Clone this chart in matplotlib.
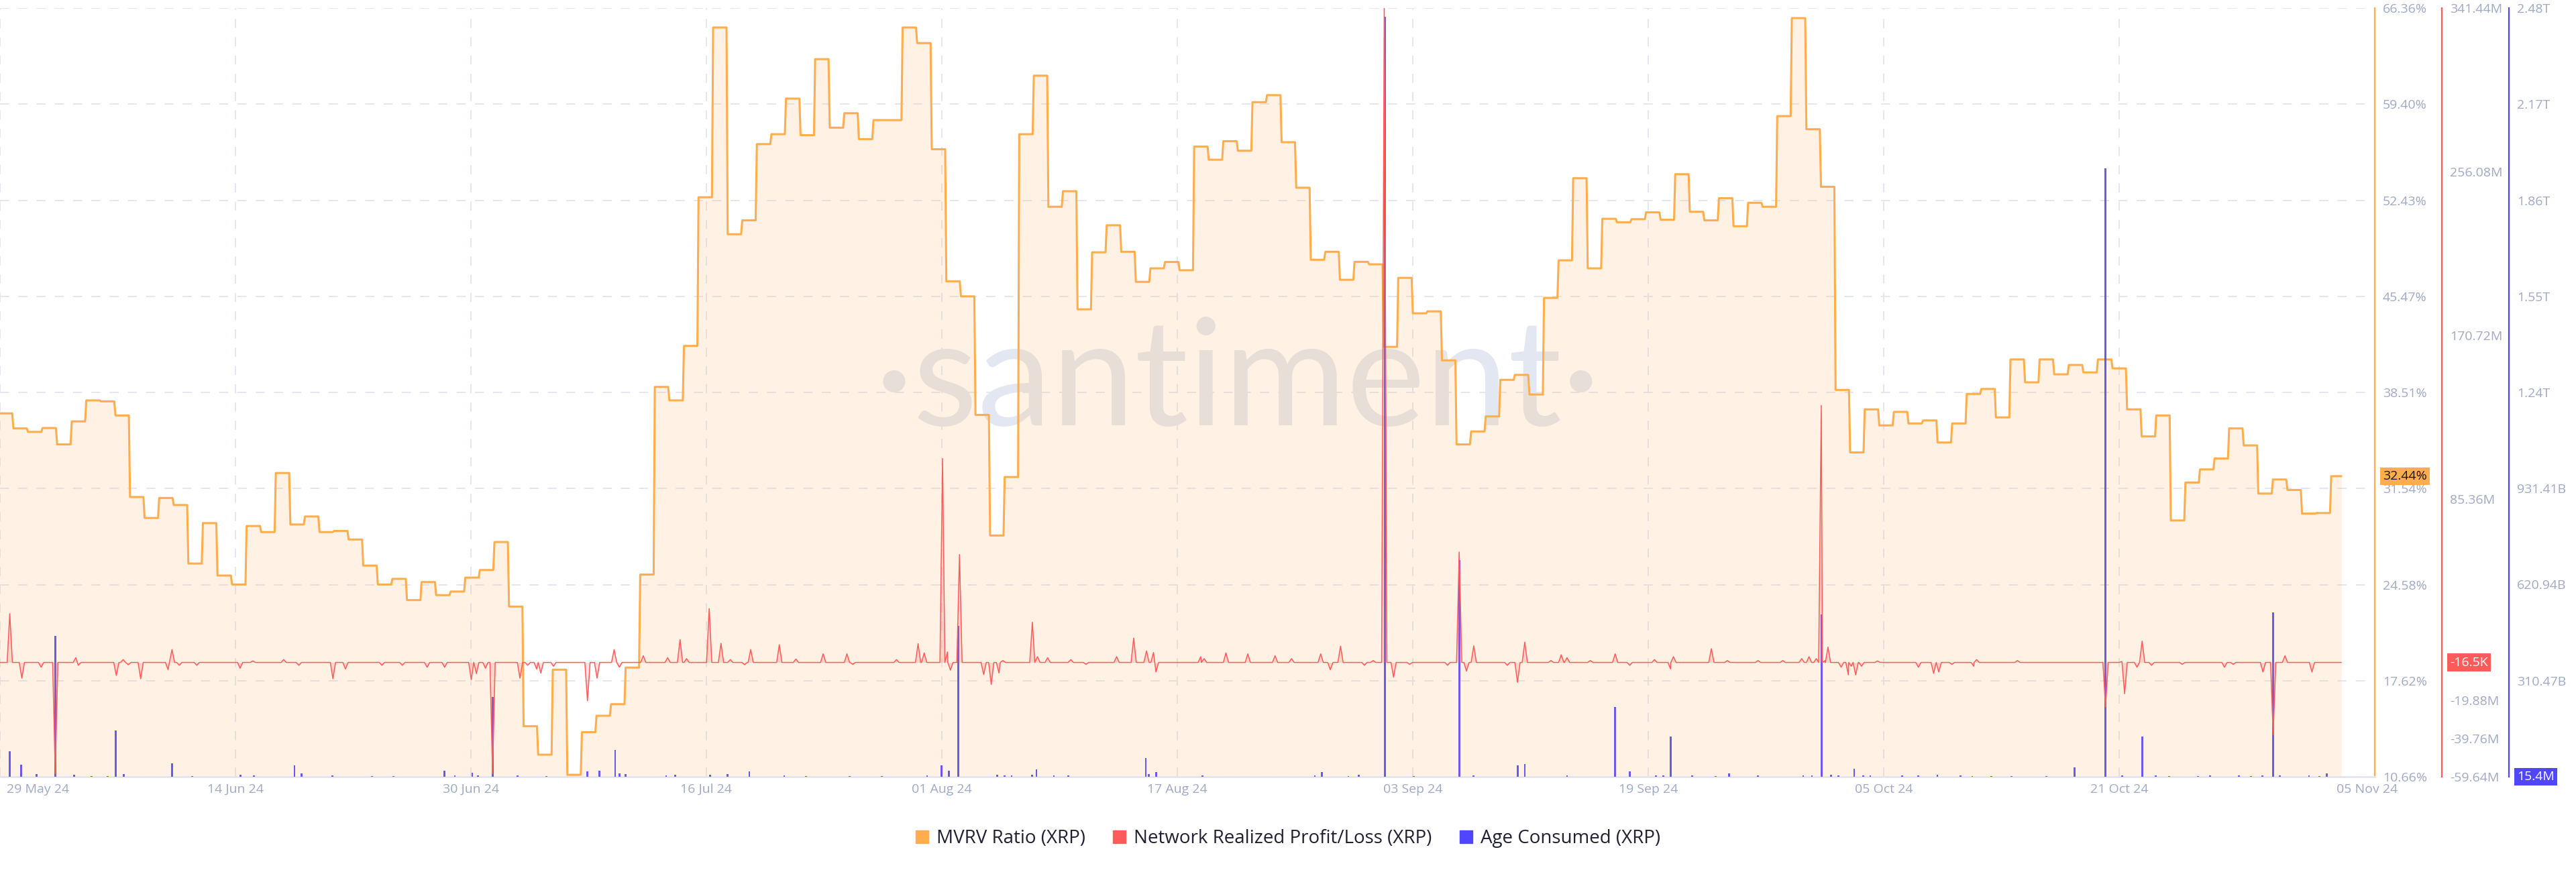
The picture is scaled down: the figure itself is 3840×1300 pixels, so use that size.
import numpy as np
import matplotlib.pyplot as plt
from matplotlib.patches import Patch
from matplotlib.transforms import blended_transform_factory

plt.rcParams['font.family'] = ['Open Sans', 'DejaVu Sans']

# MVRV Ratio (XRP), one value per day from 29 May 24 to 05 Nov 24 (%)
mvrv = [
    36.99, 35.90, 35.65, 35.93, 34.74, 36.41, 37.93, 37.86, 36.84, 30.93,
    29.41, 30.86, 30.35, 26.11, 29.04, 25.24, 24.59, 28.83, 28.39, 32.67,
    28.94, 29.52, 28.39, 28.47, 27.85, 25.96, 24.59, 25.00, 23.46, 24.77,
    23.82, 24.08, 25.09, 25.64, 27.67, 22.99, 14.32, 12.26, 18.42, 10.80,
    13.89, 15.08, 15.92, 18.57, 25.31, 38.91, 37.93, 41.88, 52.65, 64.95,
    49.97, 50.98, 56.50, 57.22, 59.80, 57.15, 62.66, 57.69, 58.74, 56.86,
    58.24, 58.24, 64.95, 63.82, 56.13, 46.56, 45.47, 36.88, 28.14, 32.38,
    57.22, 61.46, 51.96, 53.09, 44.53, 48.66, 50.62, 48.70, 46.52, 47.50,
    47.96, 47.36, 56.32, 55.37, 56.71, 56.02, 59.54, 60.05, 56.64, 53.34,
    48.12, 48.70, 46.67, 47.97, 47.79, 41.81, 46.81, 44.24, 44.38, 40.83,
    34.74, 35.68, 36.77, 39.42, 39.78, 38.36, 45.36, 48.08, 54.03, 47.50,
    51.09, 50.84, 51.06, 51.56, 51.02, 54.32, 51.60, 50.98, 52.58, 50.55,
    52.25, 51.96, 58.53, 65.63, 57.58, 53.41, 38.69, 34.16, 37.28, 36.12,
    37.10, 36.26, 36.48, 34.88, 36.26, 38.40, 38.76, 36.70, 40.90, 39.24,
    40.90, 39.82, 40.50, 39.96, 40.90, 40.25, 37.28, 35.32, 36.84, 29.23,
    31.98, 32.93, 33.72, 35.90, 34.67, 31.18, 32.20, 31.44, 29.73, 29.77,
    32.44,
]

# Network Realized Profit/Loss (XRP): spikes away from zero (day offset, millions)
nrpl_days = [
    0.67, 1.50, 2.82, 3.79, 5.2, 5.37, 7.98, 8.45, 8.8, 9.65, 11.53, 11.8, 12.3,
    13.5, 16.47, 17.35, 19.46, 20.5, 22.84, 23.7, 26.2, 27.6, 29.3, 30.5, 32.33,
    32.68, 33.3, 33.79, 35.67, 36.2, 36.82, 37.1, 37.97, 40.3, 40.96, 42.13,
    42.49, 44.13, 45.8, 46.65, 47.1, 48.65, 49.46, 50.1, 51.08, 51.5, 53.46,
    54.6, 56.47, 58.1, 58.5, 61.5, 62.98, 63.4, 64.66, 65.0, 65.2, 65.82, 67.48,
    68.0, 68.53, 68.8, 70.82, 71.17, 71.87, 73.46, 74.5, 76.6, 77.77, 78.65,
    79.13, 79.3, 82.37, 82.6, 84.1, 85.6, 87.47, 88.6, 90.6, 91.26, 91.96, 93.6,
    94.2, 94.96, 95.6, 96.7, 99.3, 100.1, 100.6, 101.1, 103.4, 104.1, 104.6,
    106.4, 107.1, 107.5, 109.1, 110.8, 111.8, 113.5, 114.6, 114.8, 117.4, 118.5,
    120.6, 122.3, 123.6, 124.1, 124.6, 124.94, 125.2, 125.4, 126.3, 126.8, 127.0,
    127.3, 127.7, 128.8, 131.6, 132.65, 133.0, 133.9, 135.4, 135.6, 138.4,
    144.44, 145.56, 145.75, 146.6, 146.95, 147.6, 149.7, 152.6, 153.2, 155.24,
    155.94, 156.75, 158.6,
]
nrpl_musd = [
    25.5, -8.2, -2.5, -58.0, 2.5, -1.5, -6.8, 1.5, -1.2, -8.5, -3.8, 6.7, -1.5,
    -1.5, -3.0, 0.8, 1.5, -1.5, -8.5, -3.4, -1.5, -1.5, -2.5, -2.5, -8.9,
    -5.8, -3.0, -58.0, -8.2, -1.5, -3.5, -5.5, -2.0, -20.0, -8.2, 6.7,
    -2.5, 3.5, 2.5, 11.9, 2.0, 28.1, 10.0, 1.5, -1.2, 6.7, 9.3,
    1.8, 4.5, 4.5, -1.0, 1.5, 9.8, 5.0, 106.4, 5.5, -4.0, 56.3, -6.3,
    -11.5, -5.5, 1.0, 21.0, 3.0, 2.5, 1.5, -1.0, 3.0, 12.7, 6.0,
    5.2, -5.0, 3.0, 2.0, 5.0, 4.5, 3.5, 2.0, 4.5, -3.8, 8.5, -1.5,
    1.0, 345.0, -7.7, -1.0, -1.5, 57.6, -4.5, 8.7, -1.5, -10.4, 10.6,
    1.0, 4.0, 2.5, 1.0, 4.5, -1.5, 1.5, -3.4, 3.0, 7.2, 1.0,
    1.0, 1.0, 2.0, 3.0, 2.0, 134.1, 1.0, 8.0, -2.5, -6.5, -2.0,
    -6.5, -2.0, 0.8, -2.5, -5.7, -5.0, -1.0, -2.0, 1.5, 1.0,
    -23.3, 0.5, -16.3, -2.5, 11.1, -1.5, -1.0, -2.5, -1.0, -5.0,
    -37.7, 3.5, -5.0,
]

# Age Consumed (XRP): bars (day offset, billions)
age_days = [
    0.65, 1.45, 2.5, 3.8, 5.1, 6.3, 7.4, 7.95, 8.5, 11.8, 13.2, 16.5, 17.4, 20.2,
    20.7, 22.8, 25.5, 27.0, 30.5, 31.2, 32.4, 32.8, 33.8, 35.5, 37.5, 40.3, 41.1,
    42.2, 42.5, 42.9, 45.7, 46.3, 48.7, 49.9, 51.4, 53.8, 55.3, 58.3, 60.5, 63.6,
    64.6, 65.1, 65.75, 68.4, 68.9, 69.4, 70.8, 71.1, 72.3, 73.3, 78.6, 78.8, 79.3,
    82.5, 90.2, 90.7, 92.5, 93.2, 95.0, 97.0, 100.1, 101.1, 104.1, 104.6, 107.5,
    110.8, 111.8, 113.6, 114.1, 114.6, 116.1, 117.7, 118.6, 120.6, 123.7, 124.3,
    124.95, 125.6, 126.1, 127.2, 127.8, 128.3, 130.5, 131.6, 132.9, 134.5, 135.3,
    136.6, 138.0, 140.4, 142.3, 144.45, 145.6, 146.95, 147.9, 148.8, 150.8, 151.6,
    153.6, 154.4, 155.2, 155.95, 156.4, 158.4, 159.1, 159.6,
]
age_bn = [
    82, 38, 9, 456, 6, 3, 3, 150, 9, 44, 3, 7, 5, 36,
    10, 4, 3, 3, 19, 4, 14, 5, 257, 5, 3, 17, 19,
    87, 10, 9, 5, 6, 6, 8, 18, 4, 3, 3, 3, 4,
    36, 19, 487, 6, 5, 5, 6, 24, 4, 4, 60, 9, 16,
    4, 4, 16, 3, 6, 2456, 3, 700, 4, 36, 42, 4,
    225, 17, 4, 4, 131, 5, 3, 11, 4, 4, 5,
    524, 6, 5, 27, 5, 4, 4, 4, 7, 4, 3,
    3, 3, 3, 30, 1966, 4, 131, 4, 3, 3, 4,
    4, 3, 4, 530, 4, 4, 3, 11,
]

x_tick_labels = ['29 May 24', '14 Jun 24', '30 Jun 24', '16 Jul 24', '01 Aug 24',
                 '17 Aug 24', '03 Sep 24', '19 Sep 24', '05 Oct 24', '21 Oct 24',
                 '05 Nov 24']
mvrv_ticks = [66.36, 59.40, 52.43, 45.47, 38.51, 31.54, 24.58, 17.62, 10.66]
nrpl_ticks = [341.44, 256.08, 170.72, 85.36, -19.88, -39.76, -59.64]
nrpl_tick_labels = ['341.44M', '256.08M', '170.72M', '85.36M', '-19.88M', '-39.76M', '-59.64M']
age_ticks = [2483.76, 2173.29, 1862.82, 1552.35, 1241.88, 931.41, 620.94, 310.47]
age_tick_labels = ['2.48T', '2.17T', '1.86T', '1.55T', '1.24T', '931.41B', '620.94B', '310.47B']

ORANGE = '#FFAD4D'
RED = '#FF5B5B'
BLUE = '#5046FF'
TICK = '#9FA9C4'
GRID = '#E4E7F2'

W, H = 3840, 1300
PX_DAY = 21.73
left_px, right_px, top_px, bot_px = 0, 3540, 12, 1158
xmax = right_px / PX_DAY
data_end = 3490 / PX_DAY
tick_step = 351 / PX_DAY

fig = plt.figure(figsize=(W / 100, H / 100), dpi=100)
ax = fig.add_axes([left_px / W, 1 - bot_px / H, (right_px - left_px) / W, (bot_px - top_px) / H])
ax3 = ax.twinx()
ax2 = ax.twinx()
ax.set_zorder(1)
ax3.set_zorder(2)
ax2.set_zorder(3)

# ---- MVRV (orange) ----
days = np.arange(len(mvrv))
xs = np.column_stack([days - 0.08, days + 0.84]).ravel()
xs[-1] = data_end
ys = np.repeat(mvrv, 2)
ax.fill_between(xs, ys, mvrv_ticks[-1], color=ORANGE, alpha=0.15, lw=0, zorder=2)
ax.plot(xs, ys, color=ORANGE, lw=2.2, zorder=3)

ax.set_xlim(0, xmax)
ax.set_ylim(10.66, 66.36)
ax.set_yticks(mvrv_ticks)
ax.set_yticklabels([f'{t:.2f}%' for t in mvrv_ticks])
ax.yaxis.tick_right()
ax.tick_params(axis='y', length=0, pad=8.5, labelsize=14, labelcolor=TICK)
ax.set_xticks([k * tick_step for k in range(10)])
ax.tick_params(axis='x', length=0, labelbottom=False)
ax.set_axisbelow(True)
ax.grid(True, color=GRID, ls=(0, (7, 7)), lw=1.4)

for s in ['left', 'top']:
    ax.spines[s].set_visible(False)
ax.spines['right'].set_color(ORANGE)
ax.spines['right'].set_linewidth(1.6)
ax.spines['bottom'].set_color('#E3E6F0')
ax.spines['bottom'].set_linewidth(2)

ax.text(1845 / right_px, (bot_px - 634) / (bot_px - top_px), '\u00b7santiment\u00b7',
        transform=ax.transAxes, ha='center', va='baseline', fontsize=160,
        family=['Lato', 'DejaVu Sans'], color='#E3E7F1', zorder=0.2)

bt = blended_transform_factory(ax.transData, ax.transAxes)
ylab = -(1177 - bot_px) / (bot_px - top_px)
for k, lab in enumerate(x_tick_labels):
    if k == 0:
        ax.text(10 / PX_DAY, ylab, lab, transform=bt, ha='left', va='center',
                fontsize=14, color=TICK, clip_on=False)
    elif k == len(x_tick_labels) - 1:
        ax.text(3529 / PX_DAY, ylab, lab, transform=bt, ha='center', va='center',
                fontsize=14, color=TICK, clip_on=False)
    else:
        ax.text(k * tick_step, ylab, lab, transform=bt, ha='center', va='center',
                fontsize=14, color=TICK, clip_on=False)

# ---- NRPL (red) ----
order = np.argsort(nrpl_days)
sd = [(nrpl_days[i], nrpl_musd[i]) for i in order]
half = 0.18
rx, ry = [0.0], [0.0]
for j, (d, v) in enumerate(sd):
    if d - half > rx[-1]:
        rx.append(d - half)
        ry.append(0.0)
    rx.append(d)
    ry.append(v)
    nxt = sd[j + 1][0] if j + 1 < len(sd) else data_end + 10
    if d + half < nxt - half:
        rx.append(d + half)
        ry.append(0.0)
rx.append(data_end)
ry.append(0.0)
ax2.fill_between(rx, ry, 0, color=RED, alpha=0.2, lw=0)
ax2.plot(rx, ry, color=RED, lw=1.1)
ax2.set_ylim(-59.64, 341.44)
ax2.set_yticks(nrpl_ticks)
ax2.set_yticklabels(nrpl_tick_labels)
ax2.tick_params(axis='y', length=0, pad=8.5, labelsize=14, labelcolor=TICK)
for s in ['left', 'top', 'bottom']:
    ax2.spines[s].set_visible(False)
ax2.spines['right'].set_position(('axes', 3640 / right_px))
ax2.spines['right'].set_color(RED)
ax2.spines['right'].set_linewidth(1.6)

# ---- Age Consumed (blue) ----
ax3.bar(age_days, age_bn, width=0.13, color='#5A48F2', alpha=0.9, lw=0)
ax3.set_ylim(0, 2483.76)
ax3.set_yticks(age_ticks)
ax3.set_yticklabels(age_tick_labels)
ax3.tick_params(axis='y', length=0, pad=8.5, labelsize=14, labelcolor=TICK)
for s in ['left', 'top', 'bottom']:
    ax3.spines[s].set_visible(False)
ax3.spines['right'].set_position(('axes', 3740 / right_px))
ax3.spines['right'].set_color(BLUE)
ax3.spines['right'].set_linewidth(1.6)
ax.set_xlim(0, xmax)

# ---- current value badges ----
def badge(a, xpx, y, txt, fc, tc):
    tr = blended_transform_factory(a.transAxes, a.transData)
    a.text(xpx / right_px, y, txt, transform=tr, ha='left', va='center', fontsize=14,
           color=tc, clip_on=False, zorder=10,
           bbox=dict(boxstyle='square,pad=0.22', fc=fc, ec='none'))

badge(ax, 3552, mvrv[-1], f'{mvrv[-1]:.2f}%', ORANGE, '#15171F')
badge(ax2, 3652, 0, '-16.5K', RED, 'white')
badge(ax3, 3752, 0, '15.4M', BLUE, 'white')

handles = [Patch(color=ORANGE, label='MVRV Ratio (XRP)'),
           Patch(color=RED, label='Network Realized Profit/Loss (XRP)'),
           Patch(color=BLUE, label='Age Consumed (XRP)')]
fig.legend(handles=handles, loc='center', bbox_to_anchor=(0.5, 1 - 1250 / H), ncol=3,
           frameon=False, fontsize=20, handlelength=0.68, handleheight=0.68,
           handletextpad=0.42, columnspacing=1.5, labelcolor='#1F2133')

fig.savefig('out.png', dpi=100, facecolor='white')
